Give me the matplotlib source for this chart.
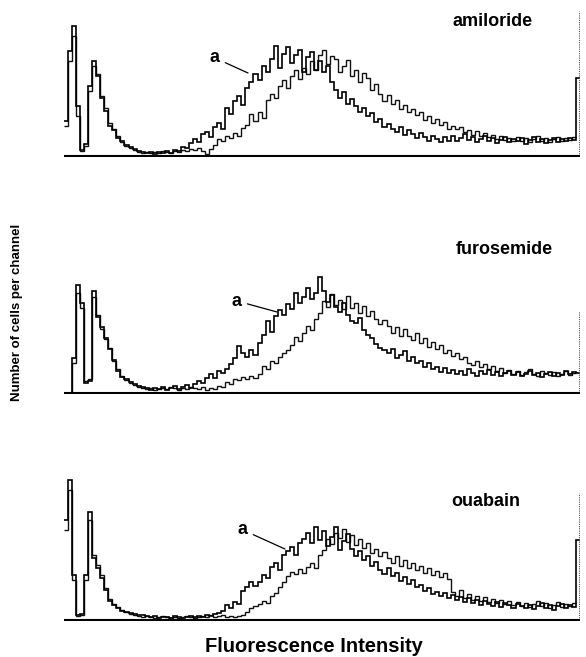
#!/usr/bin/env python3
"""Flow cytometry histograms: amiloride / furosemide / ouabain."""

import matplotlib

matplotlib.use("Agg")
import matplotlib.pyplot as plt
import numpy as np

plt.rcParams["font.family"] = ["Liberation Sans", "DejaVu Sans"]

# 128 bins of 2 channels each (0..256), counts in arbitrary units
PANELS = ["amiloride", "furosemide", "ouabain"]

amiloride_a = [
    35, 105, 130, 50, 6, 12, 70, 95, 80, 58, 45, 30, 26, 18, 15, 11,
    9, 7, 5, 4, 3, 4, 2, 4, 3, 5, 3, 6, 5, 9, 8, 13,
    17, 14, 22, 24, 19, 29, 33, 27, 48, 42, 55, 60, 51, 68, 74, 82,
    76, 90, 84, 97, 110, 88, 102, 109, 93, 101, 106, 84, 99, 104, 86, 95,
    84, 90, 74, 66, 58, 64, 52, 57, 50, 44, 48, 40, 43, 34, 37, 29,
    32, 27, 24, 29, 21, 26, 22, 18, 23, 19, 15, 20, 17, 14, 19, 15,
    20, 15, 18, 22, 16, 19, 14, 17, 20, 15, 18, 13, 16, 19, 14, 17,
    15, 18, 12, 16, 19, 14, 17, 13, 16, 18, 14, 17, 15, 18, 16, 78,
]
amiloride_b = [
    30, 95, 120, 40, 5, 10, 65, 90, 82, 60, 48, 33, 27, 20, 14, 10,
    8, 6, 4, 3, 4, 3, 4, 3, 5, 4, 3, 5, 4, 6, 5, 7,
    6, 8, 5, 2, 7, 11, 17, 15, 20, 18, 23, 20, 28, 31, 42, 35,
    44, 38, 56, 62, 58, 70, 76, 68, 80, 86, 77, 88, 82, 95, 86, 101,
    106, 92, 100, 97, 84, 90, 96, 80, 86, 74, 83, 78, 66, 72, 62, 55,
    61, 52, 56, 47, 51, 44, 47, 41, 44, 36, 40, 33, 37, 31, 34, 27,
    30, 27, 29, 24, 26, 21, 25, 20, 23, 19, 21, 17, 20, 16, 18, 15,
    19, 15, 18, 14, 17, 20, 15, 18, 14, 17, 19, 15, 18, 16, 19, 145,
]

furosemide_a = [
    0, 0, 35, 108, 90, 10, 12, 102, 76, 66, 55, 44, 33, 22, 16, 14,
    11, 9, 7, 6, 5, 3, 5, 4, 6, 3, 5, 7, 4, 6, 8, 5,
    9, 12, 10, 15, 19, 15, 22, 20, 24, 29, 35, 47, 40, 36, 43, 38,
    50, 58, 72, 61, 77, 83, 78, 89, 84, 100, 90, 96, 105, 94, 100, 116,
    102, 91, 98, 86, 81, 90, 78, 72, 70, 75, 63, 58, 55, 49, 45, 43,
    40, 44, 35, 38, 42, 32, 36, 30, 32, 26, 30, 24, 26, 21, 25, 20,
    23, 19, 22, 18, 24, 20, 17, 22, 19, 23, 18, 21, 17, 20, 22, 18,
    21, 17, 19, 22, 18, 20, 16, 19, 21, 17, 20, 18, 22, 19, 21, 20,
]
furosemide_b = [
    0, 0, 30, 100, 85, 12, 14, 96, 78, 64, 54, 45, 32, 24, 17, 13,
    10, 8, 6, 5, 4, 5, 3, 4, 5, 4, 6, 5, 3, 5, 4, 6,
    5, 4, 6, 3, 5, 4, 7, 6, 11, 9, 14, 13, 16, 14, 17, 15,
    19, 27, 24, 32, 30, 36, 40, 43, 48, 56, 52, 60, 67, 63, 74, 80,
    92, 86, 99, 88, 93, 84, 97, 85, 90, 80, 87, 77, 82, 74, 69, 73,
    67, 60, 66, 57, 64, 57, 53, 60, 50, 55, 46, 51, 44, 48, 40, 43,
    37, 40, 34, 36, 30, 28, 32, 26, 29, 24, 27, 22, 25, 20, 23, 19,
    22, 18, 21, 24, 19, 17, 22, 20, 18, 21, 17, 19, 22, 18, 20, 82,
]

ouabain_a = [
    100, 140, 45, 5, 6, 45, 108, 62, 52, 42, 30, 19, 15, 12, 9, 8,
    7, 6, 5, 5, 4, 3, 4, 2, 3, 3, 2, 4, 3, 2, 3, 4,
    3, 4, 3, 5, 4, 6, 7, 9, 15, 12, 18, 16, 29, 33, 38, 34,
    38, 45, 42, 53, 57, 50, 65, 69, 73, 65, 77, 81, 87, 77, 93, 80,
    89, 74, 83, 93, 70, 79, 86, 71, 64, 69, 60, 64, 54, 58, 50, 46,
    52, 44, 47, 39, 43, 36, 40, 33, 35, 29, 32, 26, 28, 24, 27, 22,
    25, 20, 23, 18, 22, 17, 20, 15, 19, 16, 14, 18, 13, 17, 15, 12,
    16, 14, 12, 15, 11, 14, 17, 12, 15, 10, 14, 16, 12, 15, 13, 80,
]
ouabain_b = [
    90, 130, 40, 4, 5, 40, 100, 65, 55, 45, 32, 21, 16, 13, 10, 8,
    6, 5, 4, 3, 4, 3, 2, 3, 4, 3, 2, 3, 2, 3, 4, 3,
    2, 3, 4, 3, 5, 3, 4, 5, 3, 4, 3, 4, 5, 8, 12, 14,
    16, 19, 17, 24, 27, 33, 38, 44, 48, 46, 51, 47, 53, 57, 52, 65,
    70, 81, 76, 87, 82, 91, 78, 85, 75, 81, 72, 77, 67, 71, 64, 68,
    62, 57, 64, 54, 60, 52, 57, 50, 54, 47, 52, 45, 49, 43, 47, 41,
    28, 24, 30, 22, 26, 20, 24, 19, 23, 18, 21, 17, 20, 16, 19, 15,
    18, 14, 17, 13, 16, 19, 14, 17, 12, 15, 18, 13, 16, 14, 17, 127,
]

# where label "a" sits and which point of curve a it points to (channel, count)
LABEL_A_TEXT = [(74.9, 98), (85.8, 92), (88.8, 90)]
LABEL_A_POINT = [(91.3, 83), (105.7, 81), (109.6, 71)]
# panel name centres in pixels
NAME_POS = [(493, 22), (504, 250), (486, 501)]

W, H = 586, 657


def px_box(left, bottom, right, top):
    # pixel box (top-left origin) -> figure fraction rect
    return [left / W, 1 - bottom / H, (right - left) / W, (bottom - top) / H]


def main():
    fig = plt.figure(figsize=(W / 100, H / 100), dpi=100)
    edges = np.arange(0, 257, 2)
    series = [
        (amiloride_a, amiloride_b),
        (furosemide_a, furosemide_b),
        (ouabain_a, ouabain_b),
    ]
    baselines = [157, 394, 621]

    for k, (name, (sa, sb)) in enumerate(zip(PANELS, series)):
        base = baselines[k]
        ax = fig.add_axes(px_box(64, base, 580, base - 150))
        # overflow channel of curve b is the faint dotted bar at the right edge
        ax.stairs(sb[:-1], edges[:-1], baseline=None, color="#111111", lw=1.0)
        ax.vlines(edges[-1] - 0.6, 0, sb[-1], color="#555555", lw=0.8,
                  linestyles=(0, (1, 1)))
        ax.stairs(sa, edges, baseline=None, color="black", lw=1.2)
        ax.axhline(0, color="black", lw=1.5)
        ax.set_xlim(0, 256)
        ax.set_ylim(-1, 149)
        ax.axis("off")

        ax.annotate("a", xy=LABEL_A_POINT[k], xytext=LABEL_A_TEXT[k],
                    fontsize=13, fontweight="bold", ha="center", va="center",
                    arrowprops=dict(arrowstyle="-", color="black", lw=0.9,
                                    shrinkA=2, shrinkB=0))
        fig.text(NAME_POS[k][0] / W, 1 - NAME_POS[k][1] / H, name,
                 ha="center", va="center", fontsize=13, fontweight="bold")

    fig.text(17 / W, 1 - 312 / H, "Number of cells per channel", rotation=90,
             ha="center", va="center", fontsize=9.5, fontweight="bold")
    fig.text(314 / W, 1 - 647 / H, "Fluorescence Intensity",
             ha="center", va="center", fontsize=14.5, fontweight="bold")

    fig.savefig("out.png", dpi=100, facecolor="white")
    plt.close(fig)


if __name__ == "__main__":
    main()
